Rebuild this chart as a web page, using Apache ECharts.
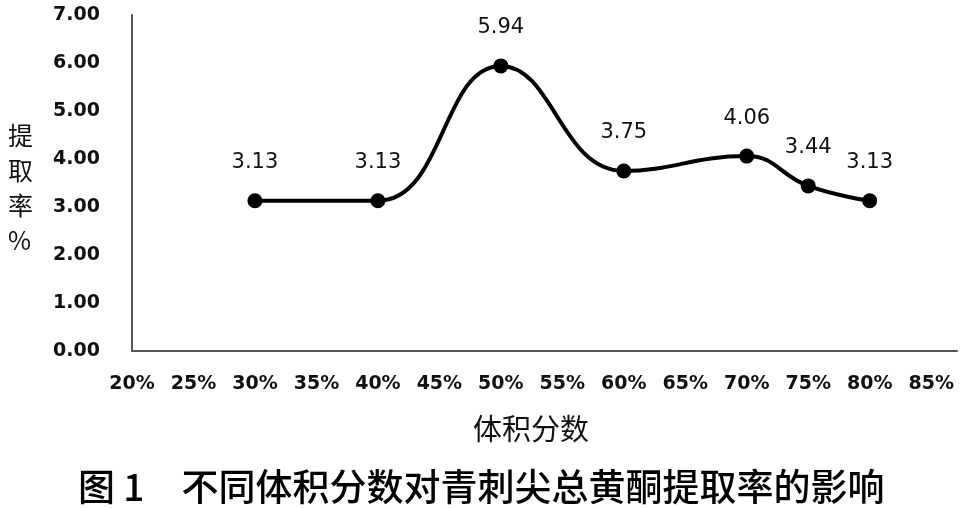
<!DOCTYPE html>
<html>
<head>
<meta charset="utf-8">
<script src="https://cdn.jsdelivr.net/npm/echarts@6/dist/echarts.min.js"></script>
<style>
html,body{margin:0;padding:0;background:#fff;}
#chart{width:971px;height:508px;}
</style>
</head>
<body>
<div id="chart"></div>
<script>
// volume fraction (x) of each measured point
var volumeFractions = [0.30, 0.40, 0.50, 0.60, 0.70, 0.75, 0.80];
// extraction rate (%)
var extractionRates = [3.13, 3.13, 5.94, 3.75, 4.06, 3.44, 3.13];
// x tick labels shown on the axis
var xTickLabels = ['20%','25%','30%','35%','40%','45%','50%','55%','60%','65%','70%','75%','80%','85%'];
var yTickValues = [0, 1, 2, 3, 4, 5, 6, 7];
var yAxisName = '提\n取\n率\n%';
var xAxisName = '体积分数';
var figureTitle = '图 1　不同体积分数对青刺尖总黄酮提取率的影响';

var points = volumeFractions.map(function (x, i) { return [x, extractionRates[i]]; });

var chart = echarts.init(document.getElementById('chart'), null, {renderer: 'canvas'});
chart.setOption({
  backgroundColor: '#ffffff',
  animation: false,
  grid: {left: 132, right: 14, top: 15, bottom: 157},
  xAxis: {
    type: 'value',
    min: 0.2,
    max: 0.871,
    interval: 0.05,
    splitLine: {show: false},
    axisTick: {show: false},
    axisLine: {lineStyle: {color: '#555555', width: 2}},
    axisLabel: {
      margin: 24,
      showMaxLabel: false,
      fontFamily: 'DejaVu Sans',
      fontWeight: 'bold',
      fontSize: 19,
      color: '#111111',
      formatter: function (v) {
        var idx = Math.round((v - 0.2) / 0.05);
        if (Math.abs(v - (0.2 + idx * 0.05)) > 1e-6) return '';
        return xTickLabels[idx] || '';
      }
    }
  },
  yAxis: {
    type: 'value',
    min: yTickValues[0],
    max: yTickValues[yTickValues.length - 1],
    interval: 1,
    splitLine: {show: false},
    axisTick: {show: false},
    axisLine: {show: true, lineStyle: {color: '#555555', width: 2}},
    axisLabel: {
      margin: 32,
      fontFamily: 'DejaVu Sans',
      fontWeight: 'bold',
      fontSize: 19,
      color: '#111111',
      formatter: function (v) { return v.toFixed(2); }
    }
  },
  graphic: [
    {
      type: 'text',
      left: 8,
      top: 118,
      style: {
        text: yAxisName,
        font: '25px "Noto Sans CJK SC"',
        lineHeight: 35,
        fill: '#111111',
        textAlign: 'left'
      }
    },
    {
      type: 'text',
      left: 473,
      top: 414,
      style: {
        text: xAxisName,
        font: '29px "Noto Sans CJK SC"',
        fill: '#111111'
      }
    },
    {
      type: 'text',
      left: 78,
      top: 468,
      style: {
        text: figureTitle,
        font: '500 37px "Noto Sans CJK SC"',
        fill: '#000000'
      }
    }
  ],
  series: [{
    type: 'line',
    data: points,
    smooth: 0.45,
    symbol: 'circle',
    symbolSize: 15,
    itemStyle: {color: '#000000'},
    lineStyle: {color: '#000000', width: 4},
    label: {
      show: true,
      position: 'top',
      distance: 20,
      fontFamily: 'DejaVu Sans',
      fontSize: 21,
      color: '#111111',
      formatter: function (p) { return p.value[1].toFixed(2); }
    }
  }]
});
</script>
</body>
</html>
